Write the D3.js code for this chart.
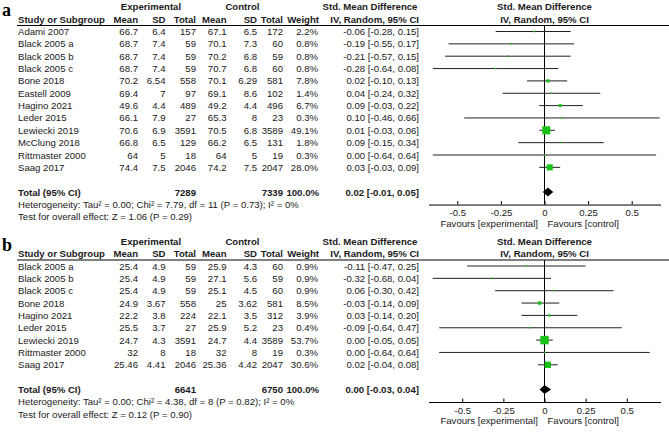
<!DOCTYPE html>
<html>
<head>
<meta charset="utf-8">
<script src="https://cdn.jsdelivr.net/npm/d3@7"></script>
<style>
  body { margin: 0; background: #fff; }
  svg text { font-family: "Liberation Sans Narrow", "Arial Narrow", "Liberation Sans", Arial, sans-serif; font-size: 9.6px; fill: #1a1a1a; }
  svg text.bold { font-weight: bold; }
  svg text.panel { font-family: "Liberation Serif", "Times New Roman", serif; font-size: 18px; font-weight: bold; fill: #000; }
</style>
</head>
<body>
<div id="container"></div>
<script>
// ---- panel a ----
const studiesA = ["Adami 2007", "Black 2005 a", "Black 2005 b", "Black 2005 c", "Bone 2018", "Eastell 2009",
  "Hagino 2021", "Leder 2015", "Lewiecki 2019", "McClung 2018", "Rittmaster 2000", "Saag 2017"];
const expMeanA = [66.7, 68.7, 68.7, 68.7, 70.2, 69.4, 49.6, 66.1, 70.6, 66.8, 64, 74.4];
const expSdA = [6.4, 7.4, 7.4, 7.4, 6.54, 7, 4.4, 7.9, 6.9, 6.5, 5, 7.5];
const expNA = [157, 59, 59, 59, 558, 97, 489, 27, 3591, 129, 18, 2046];
const ctlMeanA = [67.1, 70.1, 70.2, 70.7, 70.1, 69.1, 49.2, 65.3, 70.5, 66.2, 64, 74.2];
const ctlSdA = [6.5, 7.3, 6.8, 6.8, 6.29, 8.6, 4.4, 8, 6.8, 6.5, 5, 7.5];
const ctlNA = [172, 60, 59, 60, 581, 102, 496, 23, 3589, 131, 19, 2047];
const weightA = [2.2, 0.8, 0.8, 0.8, 7.8, 1.4, 6.7, 0.3, 49.1, 1.8, 0.3, 28.0];
const smdA = [-0.06, -0.19, -0.21, -0.28, 0.02, 0.04, 0.09, 0.10, 0.01, 0.09, 0.00, 0.03];
const lowA = [-0.28, -0.55, -0.57, -0.64, -0.10, -0.24, -0.03, -0.46, -0.03, -0.15, -0.64, -0.03];
const highA = [0.15, 0.17, 0.15, 0.08, 0.13, 0.32, 0.22, 0.66, 0.06, 0.34, 0.64, 0.09];
const totalA = [7289, 7339, 100.0, 0.02, -0.01, 0.05];   // exp N, ctl N, weight, smd, low, high
const hetA = "Heterogeneity: Tau² = 0.00; Chi² = 7.79, df = 11 (P = 0.73); I² = 0%";
const testA = "Test for overall effect: Z = 1.06 (P = 0.29)";

// ---- panel b ----
const studiesB = ["Black 2005 a", "Black 2005 b", "Black 2005 c", "Bone 2018", "Hagino 2021", "Leder 2015",
  "Lewiecki 2019", "Rittmaster 2000", "Saag 2017"];
const expMeanB = [25.4, 25.4, 25.4, 24.9, 22.2, 25.5, 24.7, 32, 25.46];
const expSdB = [4.9, 4.9, 4.9, 3.67, 3.8, 3.7, 4.3, 8, 4.41];
const expNB = [59, 59, 59, 558, 224, 27, 3591, 18, 2046];
const ctlMeanB = [25.9, 27.1, 25.1, 25, 22.1, 25.9, 24.7, 32, 25.36];
const ctlSdB = [4.3, 5.6, 4.5, 3.62, 3.5, 5.2, 4.4, 8, 4.42];
const ctlNB = [60, 59, 60, 581, 312, 23, 3589, 19, 2047];
const weightB = [0.9, 0.9, 0.9, 8.5, 3.9, 0.4, 53.7, 0.3, 30.6];
const smdB = [-0.11, -0.32, 0.06, -0.03, 0.03, -0.09, 0.00, 0.00, 0.02];
const lowB = [-0.47, -0.68, -0.30, -0.14, -0.14, -0.64, -0.05, -0.64, -0.04];
const highB = [0.25, 0.04, 0.42, 0.09, 0.20, 0.47, 0.05, 0.64, 0.08];
const totalB = [6641, 6750, 100.0, 0.00, -0.03, 0.04];
const hetB = "Heterogeneity: Tau² = 0.00; Chi² = 4.38, df = 8 (P = 0.82); I² = 0%";
const testB = "Test for overall effect: Z = 0.12 (P = 0.90)";

const tickValues = [-0.5, -0.25, 0, 0.25, 0.5];

const width = 669;
const height = 432;
const rowStep = 12.35;

const svg = d3.select("#container").append("svg")
  .attr("width", width).attr("height", height);

const fmt2 = v => v.toFixed(2);
const fmtW = v => v.toFixed(1) + "%";
const ciText = (m, l, h) => fmt2(m) + " [" + fmt2(l) + ", " + fmt2(h) + "]";

function drawPanel(p) {
  const g = svg.append("g");
  const rowY = d3.scaleLinear().domain([0, 1]).range([p.top + 31.5, p.top + 31.5 + rowStep]);
  const x = d3.scaleLinear().domain(p.domain).range([428.5, 660.5]);
  const size = d3.scaleSqrt().domain([0, 100]).range([0, 11.5]);

  g.append("text").attr("class", "panel").attr("x", 2).attr("y", p.top + 16).text(p.label);

  // group headers
  const h1 = p.top + 10, h2 = p.top + 22.5;
  g.append("text").attr("class", "bold").attr("x", 151).attr("y", h1).attr("text-anchor", "middle").text("Experimental");
  g.append("text").attr("class", "bold").attr("x", 242.5).attr("y", h1).attr("text-anchor", "middle").text("Control");
  g.append("text").attr("class", "bold").attr("x", 370).attr("y", h1).attr("text-anchor", "middle").text("Std. Mean Difference");
  g.append("text").attr("class", "bold").attr("x", 544.5).attr("y", h1).attr("text-anchor", "middle").text("Std. Mean Difference");
  g.append("text").attr("class", "bold").attr("x", 18).attr("y", h2).text("Study or Subgroup");

  const cols = [
    { x: 138, head: "Mean" }, { x: 165.5, head: "SD" }, { x: 196, head: "Total" },
    { x: 226.5, head: "Mean" }, { x: 257, head: "SD" }, { x: 283, head: "Total" },
    { x: 319, head: "Weight" }, { x: 419, head: "IV, Random, 95% CI" }
  ];
  g.selectAll("text.colhead").data(cols).enter().append("text")
    .attr("class", "colhead bold")
    .attr("x", d => d.x).attr("y", h2)
    .attr("text-anchor", "end")
    .text(d => d.head);
  g.append("text").attr("class", "bold").attr("x", 544.5).attr("y", h2).attr("text-anchor", "middle").text("IV, Random, 95% CI");

  g.append("line").attr("x1", 17).attr("x2", width).attr("y1", p.top + 25.5).attr("y2", p.top + 25.5)
    .attr("stroke", "#000").attr("stroke-width", 1);

  // table rows
  const rows = p.studies.map((s, i) => [
    s, String(p.expMean[i]), String(p.expSd[i]), String(p.expN[i]),
    String(p.ctlMean[i]), String(p.ctlSd[i]), String(p.ctlN[i]),
    fmtW(p.weight[i]), ciText(p.smd[i], p.low[i], p.high[i])
  ]);
  const colX = [18, 138, 165.5, 196, 226.5, 257, 283, 318, 419];
  rows.forEach((r, i) => {
    g.selectAll(null).data(r).enter().append("text")
      .attr("x", (d, j) => colX[j])
      .attr("y", rowY(i) + 3.5)
      .attr("text-anchor", (d, j) => j === 0 ? "start" : "end")
      .text(d => d);
  });

  const ti = p.studies.length + 1;
  const tot = ["Total (95% CI)", "", "", String(p.total[0]), "", "", String(p.total[1]),
    fmtW(p.total[2]), ciText(p.total[3], p.total[4], p.total[5])];
  g.selectAll(null).data(tot).enter().append("text")
    .attr("class", "bold")
    .attr("x", (d, j) => j === 7 ? 319 : colX[j])
    .attr("y", rowY(ti) + 3.5)
    .attr("text-anchor", (d, j) => j === 0 ? "start" : "end")
    .text(d => d);

  g.append("text").attr("x", 18).attr("y", rowY(ti + 1) + 3.5).text(p.het);
  g.append("text").attr("x", 18).attr("y", rowY(ti + 2) + 3.5).text(p.test);

  // forest plot
  const axisY = rowY(ti) + 12.5;
  g.append("line")
    .attr("x1", x(0)).attr("x2", x(0))
    .attr("y1", p.top + 25.5).attr("y2", axisY)
    .attr("stroke", "#000");

  g.selectAll("line.ci").data(p.studies).enter().append("line")
    .attr("class", "ci")
    .attr("x1", (d, i) => x(p.low[i])).attr("x2", (d, i) => x(p.high[i]))
    .attr("y1", (d, i) => rowY(i)).attr("y2", (d, i) => rowY(i))
    .attr("stroke", "#222").attr("stroke-width", 1);

  g.selectAll("rect.sq").data(p.weight).enter().append("rect")
    .attr("class", "sq")
    .attr("x", (d, i) => x(p.smd[i]) - Math.max(size(d), 1.5) / 2)
    .attr("y", (d, i) => rowY(i) - Math.max(size(d), 1.5) / 2)
    .attr("width", d => Math.max(size(d), 1.5))
    .attr("height", d => Math.max(size(d), 1.5))
    .attr("fill", "#19c119");

  const ty = rowY(ti);
  g.append("polygon")
    .attr("points", [
      [x(p.total[4]), ty], [x(p.total[3]), ty - 4.5],
      [x(p.total[5]), ty], [x(p.total[3]), ty + 4.5]
    ].join(" "))
    .attr("fill", "#000");

  const axis = d3.axisBottom(x)
    .tickValues(tickValues)
    .tickSizeInner(-3.5)
    .tickSizeOuter(0)
    .tickPadding(5)
    .tickFormat(d => String(d));
  const ax = g.append("g")
    .attr("transform", "translate(0," + axisY + ")")
    .call(axis);
  ax.select(".domain").attr("stroke", "#000");
  ax.selectAll(".tick line").attr("stroke", "#000");

  g.append("text").attr("x", 538).attr("y", axisY + 22).attr("text-anchor", "end").text("Favours [experimental]");
  g.append("text").attr("x", 547.5).attr("y", axisY + 22).text("Favours [control]");
}

drawPanel({
  label: "a", top: 0, domain: [-0.665, 0.665],
  studies: studiesA, expMean: expMeanA, expSd: expSdA, expN: expNA,
  ctlMean: ctlMeanA, ctlSd: ctlSdA, ctlN: ctlNA, weight: weightA,
  smd: smdA, low: lowA, high: highA, total: totalA, het: hetA, test: testA
});

drawPanel({
  label: "b", top: 234.5, domain: [-0.705, 0.705],
  studies: studiesB, expMean: expMeanB, expSd: expSdB, expN: expNB,
  ctlMean: ctlMeanB, ctlSd: ctlSdB, ctlN: ctlNB, weight: weightB,
  smd: smdB, low: lowB, high: highB, total: totalB, het: hetB, test: testB
});
</script>
</body>
</html>
